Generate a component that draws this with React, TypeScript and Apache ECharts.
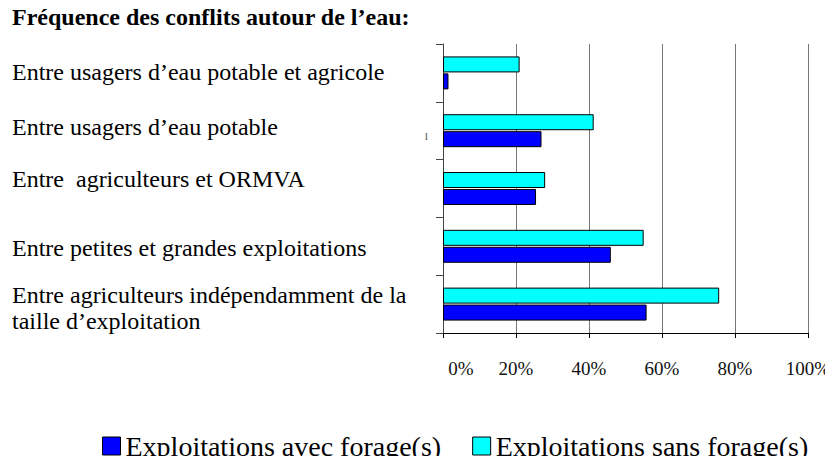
import React, { useEffect, useRef } from "react";
import * as echarts from "echarts";

const categories = [
  "Entre usagers d\u2019eau potable et agricole",
  "Entre usagers d\u2019eau potable",
  "Entre  agriculteurs et ORMVA",
  "Entre petites et grandes exploitations",
  "Entre agriculteurs ind\u00e9pendamment de la\ntaille d\u2019exploitation",
];
const avecForage = [1.5, 27, 25.5, 46, 55.8];
const sansForage = [21, 41.3, 28, 55, 75.7];
const seriesNames = ["Exploitations avec forage(s)", "Exploitations sans forage(s)"];
const titleText = "Fr\u00e9quence des conflits autour de l\u2019eau:";

// styling: vertical nudge (px) of each category label relative to its band centre
const labelNudge = [-1, -4, -10, 2, 7];

const FONT = "'Liberation Serif', 'Times New Roman', serif";
const LABEL_SIZE = 24;
const LINE_H = 33;

function buildRich() {
  const rich: Record<string, any> = {};
  labelNudge.forEach((d, i) => {
    const pad = Math.abs(d) * 2;
    const base = { fontFamily: FONT, fontSize: LABEL_SIZE, lineHeight: LINE_H, color: "#000" };
    rich["a" + i] = { ...base, padding: d >= 0 ? [pad, 0, 0, 0] : [0, 0, 0, 0] };
    rich["b" + i] = { ...base, padding: d < 0 ? [0, 0, pad, 0] : [0, 0, 0, 0] };
    rich["m" + i] = { ...base, padding: d >= 0 ? [pad, 0, 0, 0] : [0, 0, pad, 0] };
  });
  return rich;
}

export default function App() {
  const ref = useRef<HTMLDivElement>(null);
  useEffect(() => {
    const chart = echarts.init(ref.current!, undefined, { renderer: "svg" });
    chart.setOption({
      animation: false,
      backgroundColor: "#ffffff",
      title: {
        text: titleText,
        left: 12,
        top: 5,
        padding: 0,
        textStyle: { fontFamily: FONT, fontSize: 24, fontWeight: "bold", color: "#000" },
      },
      legend: {
        data: seriesNames,
        left: 102,
        top: 432,
        padding: 0,
        itemWidth: 18,
        itemHeight: 18,
        itemGap: 31,
        icon: "rect",
        itemStyle: { borderColor: "#000", borderWidth: 1 },
        textStyle: { fontFamily: FONT, fontSize: 28, color: "#000", padding: [0, 0, 0, 0] },
      },
      grid: { left: 443, right: 23, top: 44, bottom: 131, containLabel: false },
      xAxis: {
        type: "value",
        min: 0,
        max: 100,
        interval: 20,
        axisLine: { show: true, lineStyle: { color: "#000", width: 1 } },
        axisTick: { show: true, length: 5, lineStyle: { color: "#000" } },
        splitLine: { show: true, lineStyle: { color: "#777", width: 1 } },
        axisLabel: {
          margin: 26,
          fontFamily: FONT,
          fontSize: 19,
          color: "#111",
          formatter: (v: number) => (v === 0 ? "{z|0%}" : v + "%"),
          rich: { z: { padding: [0, 0, 0, 36], fontFamily: FONT, fontSize: 19, color: "#111" } },
        },
      },
      yAxis: {
        type: "category",
        data: categories,
        inverse: true,
        axisLine: { show: true, lineStyle: { color: "#444", width: 1 } },
        axisTick: { show: true, length: 7, lineStyle: { color: "#444" } },
        axisLabel: {
          align: "left",
          margin: 431,
          fontFamily: FONT,
          fontSize: LABEL_SIZE,
          lineHeight: LINE_H,
          color: "#000",
          formatter: (v: string, i: number) => {
            const lines = v.split("\n");
            if (lines.length === 1) return `{m${i}|${lines[0]}}`;
            return `{a${i}|${lines[0]}}\n{b${i}|${lines[1]}}`;
          },
          rich: buildRich(),
        },
      },
      series: [
        {
          name: seriesNames[1],
          type: "bar",
          data: sansForage,
          barWidth: 16,
          barGap: "6%",
          itemStyle: { color: "#00ffff", borderColor: "#000", borderWidth: 1 },
        },
        {
          name: seriesNames[0],
          type: "bar",
          data: avecForage,
          barWidth: 16,
          itemStyle: { color: "#0000ff", borderColor: "#000", borderWidth: 1 },
        },
      ],
      graphic: [
        {
          type: "text",
          left: 425,
          top: 131,
          style: { text: "l", fontFamily: FONT, fontSize: 10, fill: "#333" },
        },
      ],
    });
    return () => chart.dispose();
  }, []);
  return <div ref={ref} style={{ width: 833, height: 464, margin: -8 }} />;
}
